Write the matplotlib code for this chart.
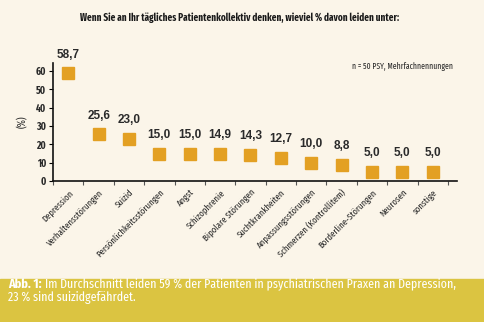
import matplotlib
matplotlib.use("Agg")
import matplotlib.pyplot as plt

categories = ["Depression", "Verhaltensstörungen", "Suizid", "Persönlichkeitsstörungen",
              "Angst", "Schizophrenie", "Bipolare Störungen", "Suchtkrankheiten",
              "Anpassungsstörungen", "Schmerzen (Kontrollitem)", "Borderline-Störungen",
              "Neurosen", "sonstige"]
values = [58.7, 25.6, 23.0, 15.0, 15.0, 14.9, 14.3, 12.7, 10.0, 8.8, 5.0, 5.0, 5.0]
value_labels = ["58,7", "25,6", "23,0", "15,0", "15,0", "14,9", "14,3", "12,7",
                "10,0", "8,8", "5,0", "5,0", "5,0"]
yticks = [0, 10, 20, 30, 40, 50, 60]

COND = ["Fira Sans Extra Condensed", "DejaVu Sans"]
W, H = 484, 322
fig = plt.figure(figsize=(W/100, H/100), dpi=100)
bg = "#FBF5E9"
fig.patch.set_facecolor(bg)


def fit(t, width_px):
    fig.canvas.draw()
    w = t.get_window_extent().width
    t.set_fontsize(t.get_fontsize() * width_px / w)


ax = fig.add_axes([53/W, 1-181/H, (457-53)/W, (181-63)/H])
ax.set_facecolor(bg)
x = list(range(len(categories)))
ax.plot(x, values, linestyle="none", marker="s", markersize=8, color="#E3A023")
for xi, v, lab in zip(x, values, value_labels):
    ax.annotate(lab, (xi, v), xytext=(0, 9), textcoords="offset points",
                ha="center", va="bottom", fontsize=8.5, color="#2a2a2a",
                fontweight="bold", family="Liberation Sans")
ax.set_xlim(-0.5, 12.8)
ax.set_ylim(0, 64.4)
ax.set_yticks(yticks)
ax.set_yticklabels([str(t) for t in yticks], family=COND, fontweight="bold", fontsize=7.5, color="#2a2a2a")
ax.set_xticks([i - 0.5 for i in range(14)])
ax.set_xticklabels([])
ax.set_xticks(x, minor=True)
ax.set_xticklabels(categories, minor=True, rotation=45, ha="right", rotation_mode="anchor",
                   family=COND, fontsize=6.8, color="#2a2a2a")
ax.tick_params(axis="x", which="minor", length=0, pad=5)
ax.tick_params(axis="x", which="major", length=3, color="#555555")
ax.tick_params(axis="y", length=3, pad=2)
for s in ["top", "right"]:
    ax.spines[s].set_visible(False)
for s in ["left", "bottom"]:
    ax.spines[s].set_linewidth(1.2)
    ax.spines[s].set_color("#111111")
ax.set_ylabel("(%)", family=COND, fontsize=7.5, color="#2a2a2a", labelpad=5)

title = fig.text(240/W, 1-18/H, "Wenn Sie an Ihr tägliches Patientenkollektiv denken, wieviel % davon leiden unter:",
                 ha="center", va="center", family=COND, fontweight="bold", fontsize=8, color="#1a1a1a")
fit(title, 315)
note = fig.text(453/W, 1-66/H, "n = 50 PSY, Mehrfachnennungen", ha="right", va="center",
                family=COND, fontsize=6, color="#2a2a2a")
fit(note, 101)

band = plt.Rectangle((0, 0), 1, 43/H, transform=fig.transFigure, color="#DBC441", zorder=0)
fig.patches.append(band)
t = fig.text(8/W, 1-284/H, "Abb. 1:", ha="left", va="center", family=COND,
             fontweight="bold", fontsize=9.5, color="white")
fig.canvas.draw()
bb = t.get_window_extent()
line1 = fig.text((bb.x1 + 3)/W, 1-284/H, "Im Durchschnitt leiden 59 % der Patienten in psychiatrischen Praxen an Depression,",
                 ha="left", va="center", family=COND, fontsize=9.5, color="white")
fit(line1, 453 - bb.x1 - 3)
fig.text(8/W, 1-298/H, "23 % sind suizidgefährdet.", ha="left", va="center", family=COND,
         fontsize=line1.get_fontsize(), color="white")
fig.savefig("out.png", dpi=100, facecolor=bg)
